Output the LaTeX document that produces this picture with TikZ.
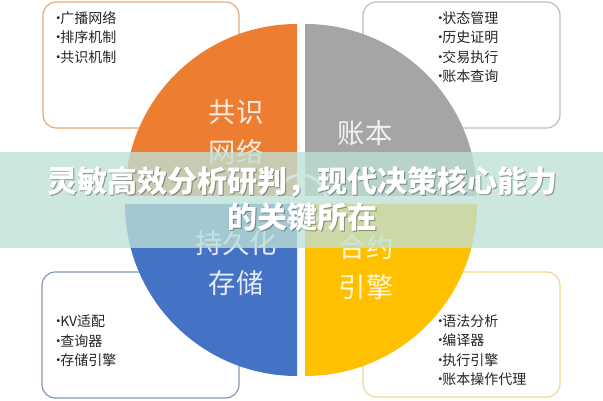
\documentclass[tikz,border=0pt]{standalone}
\usepackage{fontspec}
\setmainfont{Noto Sans CJK SC}
\newcommand\bl{\makebox[6.75pt][l]{\normalfont\textbullet}}
\definecolor{qorange}{HTML}{ED7D31}
\definecolor{qgray}{HTML}{A5A5A5}
\definecolor{qblue}{HTML}{4472C4}
\definecolor{qyellow}{HTML}{FFC000}
\definecolor{borange}{HTML}{E9A977}
\definecolor{bgray}{HTML}{BDBDBD}
\definecolor{bblue}{HTML}{8497B0}
\definecolor{byellow}{HTML}{F2D98A}
\definecolor{bannercol}{RGB}{190,225,215}
\definecolor{textcol}{HTML}{262626}
\tikzset{
  box/.style={draw, fill=white, rounded corners=10pt, line width=0.9pt, inner sep=0pt},
  listtext/.style={align=left, inner sep=0pt, text=textcol, font=\fontsize{10.5}{14.6}\selectfont},
  qlabel/.style={align=center, inner sep=0pt, text=white, text opacity=0.85, font=\fontsize{20.5}{30}\selectfont},
  titletext/.style={align=center, inner sep=0pt, font=\bfseries\fontsize{22.5}{27}\selectfont}
}
\begin{document}
\begin{tikzpicture}[x=0.75pt,y=0.75pt]
\useasboundingbox (0,0) rectangle (603,400);
\fill[white] (0,0) rectangle (603,400);
% boxes
\node (tlbox) [box, draw=borange, minimum width=147pt, minimum height=94.5pt] at (141,335) {};
\node (trbox) [box, draw=bgray, minimum width=147.75pt, minimum height=94.5pt] at (461.5,335) {};
\node (blbox) [box, draw=bblue, minimum width=147.75pt, minimum height=94.5pt] at (140.5,65) {};
\node (brbox) [box, draw=byellow, minimum width=147.75pt, minimum height=93.75pt] at (461.5,65.5) {};
% list texts
\node (tllist) [listtext, anchor=west] at (51,362.5) {\bl 广播网络\\\bl 排序机制\\\bl 共识机制};
\node (trlist) [listtext, anchor=west] at (433,353) {\bl 状态管理\\\bl 历史证明\\\bl 交易执行\\\bl 账本查询};
\node (bllist) [listtext, anchor=west] at (51,59) {\bl KV适配\\\bl 查询器\\\bl 存储引擎};
\node (brlist) [listtext, anchor=west] at (433,50) {\bl 语法分析\\\bl 编译器\\\bl 执行引擎\\\bl 账本操作代理};
% quadrants
\fill[qorange] (297,204) -- ++(0,172) arc[start angle=90, end angle=180, radius=172] -- cycle;
\fill[qgray] (305,204) -- ++(172,0) arc[start angle=0, end angle=90, radius=172] -- cycle;
\fill[qblue] (297,196) -- ++(-172,0) arc[start angle=180, end angle=270, radius=172] -- cycle;
\fill[qyellow] (305,196) -- ++(0,-172) arc[start angle=270, end angle=360, radius=172] -- cycle;
% quadrant labels
\node (lnet) [qlabel] at (236,268) {共识\\网络};
\node (lledger) [qlabel] at (365,267) {账本};
\node (lstore) [qlabel] at (236,137) {持久化\\存储};
\node (lengine) [qlabel] at (366,133) {合约\\引擎};
% centre ring
\node (ring) [draw=white, line width=2.2pt, circle, minimum size=37.5pt, inner sep=0pt] at (301,200) {};
% banner
\fill[bannercol, fill opacity=0.78] (0,152) rectangle (603,248);
% title
\node (titleshadow) [titletext, text=black, text opacity=0.35] at (303.5,199.5) {灵敏高效分析研判，现代决策核心能力\\的关键所在};
\node (title) [titletext, text=white] at (302,201) {灵敏高效分析研判，现代决策核心能力\\的关键所在};
\end{tikzpicture}
\end{document}
